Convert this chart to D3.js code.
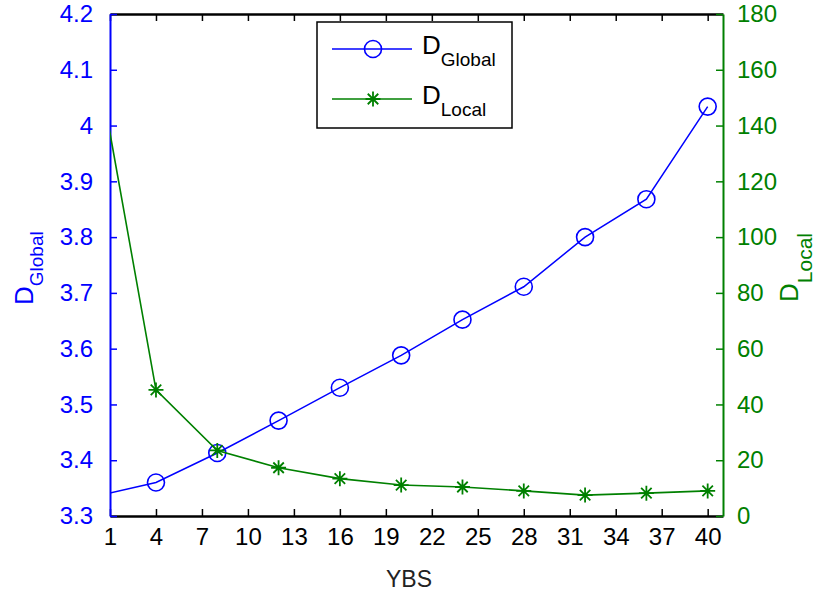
<!DOCTYPE html>
<html>
<head>
<meta charset="utf-8">
<script src="https://cdn.jsdelivr.net/npm/d3@7"></script>
<style>
  body { margin: 0; background: #fff; }
  svg { display: block; }
  text { font-family: "Liberation Sans", Arial, sans-serif; }
</style>
</head>
<body>
<svg id="chart" width="816" height="596"></svg>
<script>
// data (first point sits left of the visible x range)
let ybs = [0, 4, 8, 12, 16, 20, 24, 28, 32, 36, 40];
let dGlobal = [3.335, 3.360, 3.413, 3.471, 3.530, 3.588, 3.652, 3.711, 3.800, 3.868, 4.034];
let dLocal = [168, 45.2, 23.5, 17.3, 13.4, 11.1, 10.4, 9.0, 7.5, 8.2, 9.0];

let xTicks = [1, 4, 7, 10, 13, 16, 19, 22, 25, 28, 31, 34, 37, 40];
let leftTicks = [3.3, 3.4, 3.5, 3.6, 3.7, 3.8, 3.9, 4.0, 4.1, 4.2];
let rightTicks = [0, 20, 40, 60, 80, 100, 120, 140, 160, 180];

let blue = "#0000ff";
let green = "#008000";

let svg = d3.select("#chart");

let plotL = 110, plotR = 723, plotT = 14, plotB = 516;

let x = d3.scaleLinear().domain([1, 41]).range([plotL, plotR]);
let yL = d3.scaleLinear().domain([3.3, 4.2]).range([plotB, plotT]);
let yR = d3.scaleLinear().domain([0, 180]).range([plotB, plotT]);

svg.append("clipPath").attr("id", "plotClip")
    .append("rect")
    .attr("x", plotL).attr("y", plotT)
    .attr("width", plotR - plotL).attr("height", plotB - plotT);

//axes
let tickLen = 7;

let xBottom = svg.append("g")
    .attr("transform", `translate(0,${plotB})`)
    .call(d3.axisBottom(x).tickValues(xTicks).tickSizeInner(-tickLen).tickSizeOuter(0).tickPadding(12).tickFormat(d3.format("d")));
let xTop = svg.append("g")
    .attr("transform", `translate(0,${plotT})`)
    .call(d3.axisTop(x).tickValues(xTicks).tickSizeInner(-tickLen).tickSizeOuter(0).tickFormat(""));
let axL = svg.append("g")
    .attr("transform", `translate(${plotL},0)`)
    .call(d3.axisLeft(yL).tickValues(leftTicks).tickSizeInner(-tickLen).tickSizeOuter(0).tickPadding(17).tickFormat(d => String(+d.toFixed(1))));
let axR = svg.append("g")
    .attr("transform", `translate(${plotR},0)`)
    .call(d3.axisRight(yR).tickValues(rightTicks).tickSizeInner(-tickLen).tickSizeOuter(0).tickPadding(14).tickFormat(d3.format("d")));

[xBottom, xTop].forEach(g => {
    g.select(".domain").attr("stroke", "#000").attr("stroke-width", 2.5);
    g.selectAll(".tick line").attr("stroke", "#000").attr("stroke-width", 1.5);
    g.selectAll("text").attr("fill", "#000").attr("font-size", 24);
});
axL.select(".domain").attr("stroke", blue).attr("stroke-width", 2);
axL.selectAll(".tick line").attr("stroke", blue).attr("stroke-width", 1.5);
axL.selectAll("text").attr("fill", blue).attr("font-size", 24);
axR.select(".domain").attr("stroke", green).attr("stroke-width", 2);
axR.selectAll(".tick line").attr("stroke", green).attr("stroke-width", 1.5);
axR.selectAll("text").attr("fill", green).attr("font-size", 24);

//lines
let plot = svg.append("g").attr("clip-path", "url(#plotClip)");

let globalLine = d3.line().x((d, i) => x(ybs[i])).y(d => yL(d));
let localLine = d3.line().x((d, i) => x(ybs[i])).y(d => yR(d));

plot.append("path")
    .datum(dGlobal)
    .attr("d", globalLine)
    .attr("fill", "none").attr("stroke", blue).attr("stroke-width", 1.5);

plot.selectAll("circle.g")
    .data(dGlobal)
    .enter()
    .append("circle")
    .attr("class", "g")
    .attr("cx", (d, i) => x(ybs[i]))
    .attr("cy", d => yL(d))
    .attr("r", 8.5)
    .attr("fill", "none").attr("stroke", blue).attr("stroke-width", 1.6);

plot.append("path")
    .datum(dLocal)
    .attr("d", localLine)
    .attr("fill", "none").attr("stroke", green).attr("stroke-width", 1.6);

function asterisk(g, s) {
    let d = s * 0.7;
    g.append("path")
        .attr("d", `M${-s},0H${s}M0,${-s}V${s}M${-d},${-d}L${d},${d}M${-d},${d}L${d},${-d}`)
        .attr("stroke", green).attr("stroke-width", 1.8).attr("fill", "none");
}

plot.selectAll("g.star")
    .data(dLocal)
    .enter()
    .append("g")
    .attr("class", "star")
    .attr("transform", (d, i) => `translate(${x(ybs[i])},${yR(d)})`)
    .each(function() { asterisk(d3.select(this), 7.5); });

//axis titles
svg.append("text")
    .attr("x", 409).attr("y", 587)
    .attr("text-anchor", "middle")
    .attr("font-family", "'Open Sans', sans-serif")
    .attr("font-size", 23)
    .attr("fill", "#222")
    .text("YBS");

function subLabel(g, main, sub, color, mainSize, subSize, dy) {
    let t = g.append("text").attr("fill", color);
    t.append("tspan").attr("font-size", mainSize).text(main);
    t.append("tspan").attr("font-size", subSize).attr("dy", dy).text(sub);
    return t;
}

let yLabL = svg.append("g").attr("transform", "translate(33,305) rotate(-90)");
subLabel(yLabL, "D", "Global", blue, 26, 19, 10);

let yLabR = svg.append("g").attr("transform", "translate(798,302) rotate(-90)");
subLabel(yLabR, "D", "Local", green, 26, 21, 14);

//legend
let legend = svg.append("g");
legend.append("rect")
    .attr("x", 317).attr("y", 22)
    .attr("width", 195).attr("height", 106)
    .attr("fill", "#fff").attr("stroke", "#000").attr("stroke-width", 1.5);

let legendRows = [
    {main: "D", sub: "Global", color: blue, y: 49},
    {main: "D", sub: "Local", color: green, y: 99}
];

legendRows.forEach((r, i) => {
    legend.append("line")
        .attr("x1", 332).attr("x2", 412)
        .attr("y1", r.y).attr("y2", r.y)
        .attr("stroke", r.color).attr("stroke-width", 1.6);
    if (i === 0) {
        legend.append("circle")
            .attr("cx", 373).attr("cy", r.y).attr("r", 8.5)
            .attr("fill", "none").attr("stroke", blue).attr("stroke-width", 1.6);
    } else {
        let st = legend.append("g").attr("transform", `translate(373,${r.y})`);
        asterisk(st, 7.5);
    }
    let t = legend.append("g").attr("transform", `translate(422,${r.y + 5})`);
    subLabel(t, r.main, r.sub, "#000", 26, 19, 12);
});
</script>
</body>
</html>
